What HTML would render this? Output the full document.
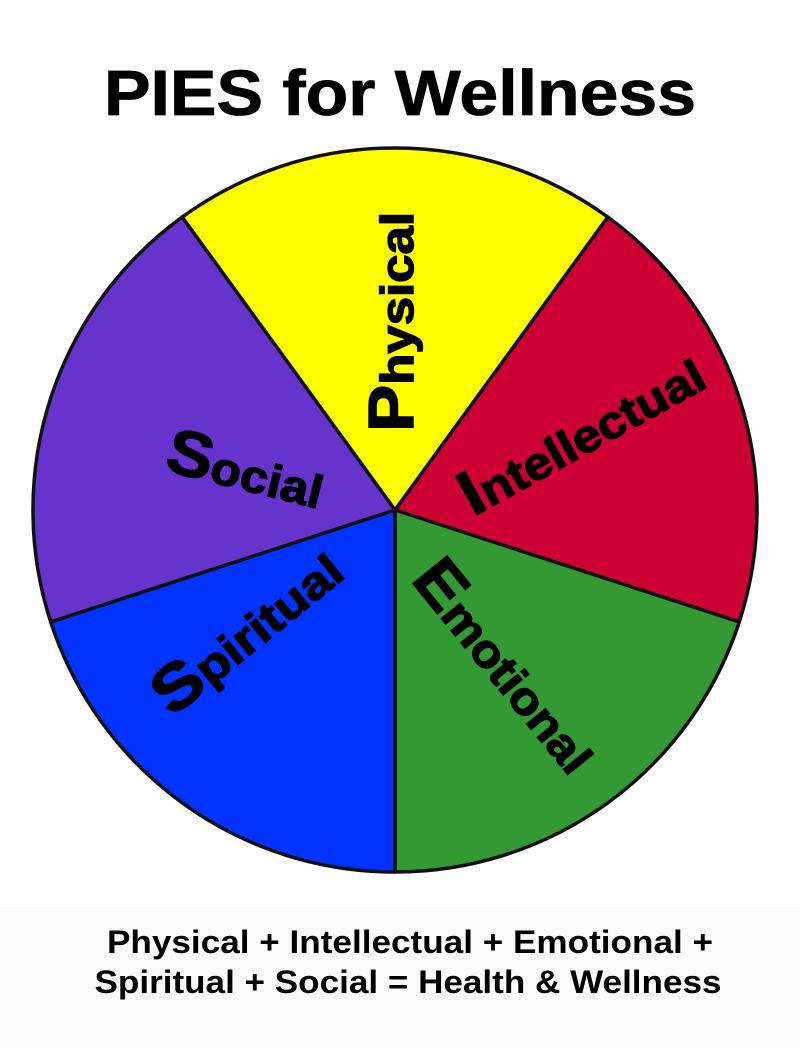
<!DOCTYPE html>
<html><head><meta charset="utf-8"><style>
html,body{margin:0;padding:0;background:#fff;}
svg{display:block;}
</style></head><body>
<svg width="800" height="1049" viewBox="0 0 800 1049" xmlns="http://www.w3.org/2000/svg" font-family="Liberation Sans, Arial, sans-serif" font-weight="bold">
<rect x="0" y="0" width="800" height="1049" fill="#fff"/>
<rect x="0" y="907" width="800" height="142" fill="#fbfafa"/>
<text x="400" y="115" font-size="64" text-anchor="middle" textLength="592" lengthAdjust="spacingAndGlyphs" stroke="#000" stroke-width="0.8">PIES for Wellness</text>
<g stroke="#111" stroke-width="3.5" stroke-linejoin="round">
<path d="M395,510 L182.2,217.1 A362,362 0 0 1 607.8,217.1 Z" fill="#ffff00"/>
<path d="M395,510 L607.8,217.1 A362,362 0 0 1 739.3,621.9 Z" fill="#cc0033"/>
<path d="M395,510 L739.3,621.9 A362,362 0 0 1 395,872 Z" fill="#339933"/>
<path d="M395,510 L395,872 A362,362 0 0 1 50.7,621.9 Z" fill="#0033ff"/>
<path d="M395,510 L50.7,621.9 A362,362 0 0 1 182.2,217.1 Z" fill="#6633cc"/>
</g>
<g fill="#000" stroke="#000" stroke-width="1.4">
<text transform="translate(413,432) rotate(-90)" font-size="46" textLength="220" lengthAdjust="spacingAndGlyphs"><tspan font-size="64">P</tspan>hysical</text>
<text transform="translate(473,517) rotate(-29)" font-size="46" textLength="270" lengthAdjust="spacingAndGlyphs"><tspan font-size="64">I</tspan>ntellectual</text>
<text transform="translate(410,580) rotate(51)" font-size="46" textLength="254" lengthAdjust="spacingAndGlyphs"><tspan font-size="64">E</tspan>motional</text>
<text transform="translate(163,470) rotate(14)" font-size="46" textLength="160" lengthAdjust="spacingAndGlyphs"><tspan font-size="64">S</tspan>ocial</text>
<text transform="translate(172,718) rotate(-39)" font-size="46" textLength="225" lengthAdjust="spacingAndGlyphs"><tspan font-size="64">S</tspan>piritual</text>
</g>
<text x="410" y="953" font-size="32" text-anchor="middle" textLength="606" lengthAdjust="spacingAndGlyphs">Physical + Intellectual + Emotional +</text>
<text x="408" y="993" font-size="32" text-anchor="middle" textLength="627" lengthAdjust="spacingAndGlyphs">Spiritual + Social = Health &amp; Wellness</text>
</svg>
</body></html>
